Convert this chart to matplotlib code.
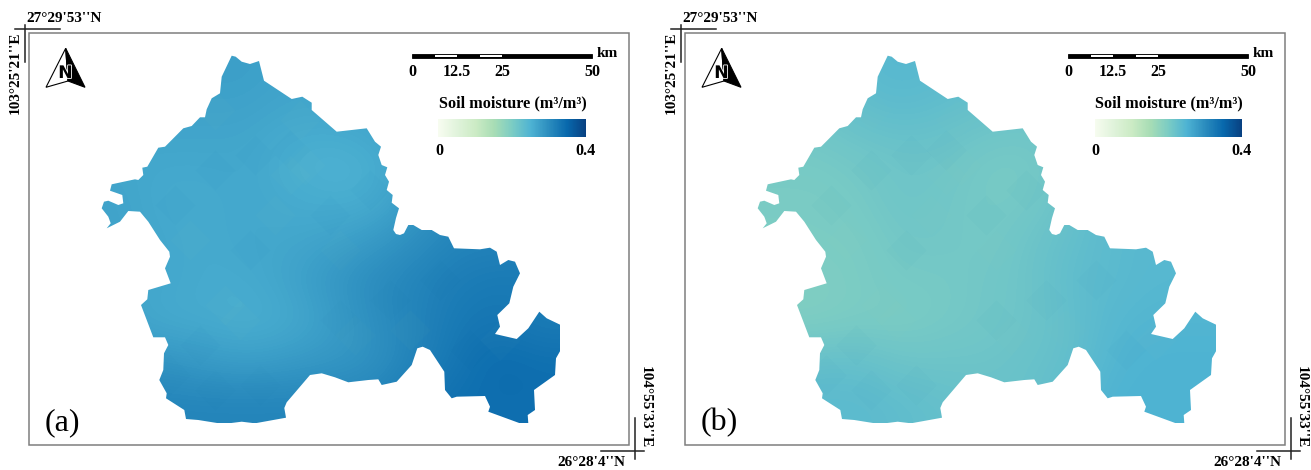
import numpy as np
import matplotlib
matplotlib.use('Agg')
import matplotlib.pyplot as plt
import matplotlib.patheffects as pe
from matplotlib.patches import Polygon, Rectangle
from matplotlib.cm import ScalarMappable
from matplotlib.colors import Normalize

plt.rcParams['font.family'] = ['Liberation Serif', 'DejaVu Serif']

W, H = 1311, 470
PANEL_SHIFT = 656

# basin outline, in picture pixels
outline_x = [231.7, 235.7, 241.7, 250, 259, 264, 291.7, 302.3, 311.7, 311.7, 336.7, 366.7, 375, 381, 378.3,
             381.7, 387.3, 385, 389, 386.7, 392.7, 391.7, 399, 396, 393.3, 396, 400, 404, 408.3, 413.3, 421.7,
             431.7, 440, 448.3, 454, 480, 490, 496.7, 500, 508.3, 515, 520, 513.3, 509.3, 497.3, 500,
             495, 516.7, 528.3, 539.3, 546.7, 560.7, 560.7, 556, 555, 534, 535, 527.7, 528.3, 520, 488.3,
             490, 485, 456.7, 451.7, 445, 444.3, 430, 422.7, 417.3, 411.7, 396.7, 381.7, 378.3, 368.3, 348.3,
             335, 321.7, 310, 286.7, 284.3, 286, 255, 241.7, 223.3, 198.3, 186, 184.3, 166, 166.7, 159.3,
             163.3, 164, 168.3, 165, 153.3, 141, 147.3, 148.3, 170.7, 165, 170, 169.3, 160, 148.3, 140,
             128.3, 120, 106.7, 110.7, 108.3, 101.7, 104, 108.3, 118.3, 123.3, 122.3, 110, 111.7, 135, 138.3,
             143.3, 142.3, 147.3, 158.3, 165, 171.7, 183.3, 191.7, 200, 205, 206.7, 211.7, 220, 221.7]
outline_y = [55.7, 56.7, 61.7, 64, 61, 80.7, 99, 96.7, 102.7, 110, 131.7, 128.3, 141.7, 146.7, 155,
             165, 167.3, 175, 181.7, 190, 195, 202.7, 208.3, 218, 230, 234, 235, 233.3, 225, 225, 230,
             230, 235, 236.7, 248.3, 249.3, 247.7, 251.7, 265, 260, 261.7, 273.3, 286.7, 303.3, 315, 326.7,
             334, 339, 328.3, 311.7, 318.3, 325, 350, 358.3, 375, 390, 410, 415, 423.3, 423.3, 411.7,
             406.7, 396, 396.7, 398.3, 390, 371.7, 350, 346.7, 348.3, 365, 381.7, 385, 379.3, 380, 382.3,
             377.3, 373.3, 375, 402.3, 408, 417.7, 423.3, 421.7, 424, 420, 419, 410, 398.3, 393.3, 380,
             370, 353.3, 345, 337.3, 337.3, 305, 299.3, 290, 283.3, 268.3, 256.7, 251.7, 240, 221.7, 211.7,
             211, 221.7, 228.3, 223.3, 216.7, 208.3, 201.7, 200.7, 205, 203.3, 195, 190.7, 184.3, 179.3, 180,
             175, 167.7, 166.7, 147.7, 146.7, 140, 128.3, 126, 117.3, 117.3, 109.3, 98.3, 93.3, 76.7]

# soil moisture, on a coarse grid (m3/m3)
grid_x = [100, 146, 192, 238, 284, 330, 376, 422, 468, 514, 560]
grid_y = [55, 101, 147, 193, 239, 285, 331, 377, 423]
moisture_a = [[.27, .27, .275, .275, .27, .27, .27, .28, .30, .30, .30],
              [.27, .27, .27, .27, .265, .265, .27, .28, .30, .30, .30],
              [.265, .265, .265, .265, .255, .25, .255, .27, .29, .30, .30],
              [.27, .26, .26, .265, .26, .255, .255, .28, .30, .31, .31],
              [.27, .265, .26, .265, .265, .27, .28, .295, .31, .31, .31],
              [.27, .265, .26, .26, .27, .285, .30, .31, .32, .325, .325],
              [.27, .26, .26, .255, .26, .275, .295, .31, .325, .33, .32],
              [.29, .29, .28, .275, .28, .285, .29, .31, .33, .345, .34],
              [.31, .31, .31, .31, .31, .31, .31, .33, .34, .34, .34]]
moisture_b = [[.215, .22, .235, .24, .235, .23, .225, .22, .23, .23, .23],
              [.21, .215, .225, .23, .225, .22, .215, .22, .23, .23, .23],
              [.205, .205, .21, .215, .215, .205, .205, .215, .225, .23, .23],
              [.20, .20, .205, .215, .21, .205, .205, .22, .235, .235, .235],
              [.20, .20, .20, .21, .21, .205, .215, .225, .235, .24, .24],
              [.195, .195, .20, .205, .205, .21, .215, .23, .235, .24, .24],
              [.195, .195, .20, .20, .205, .21, .215, .225, .24, .245, .245],
              [.22, .225, .225, .215, .215, .215, .22, .225, .245, .25, .25],
              [.235, .235, .235, .23, .225, .22, .22, .235, .25, .25, .25]]

# diamond shaped patches visible in the map texture
dark_x = [255, 215, 175, 290, 200, 170, 215, 260, 340, 390, 330, 440, 470, 250, 370]
dark_y = [155, 170, 205, 150, 345, 375, 390, 385, 320, 300, 215, 280, 350, 250, 190]
light_x = [305, 290, 225, 240, 355, 300, 340, 190, 410, 275, 500, 215]
light_y = [165, 175, 305, 320, 335, 120, 250, 240, 330, 215, 340, 110]

panel_labels = ['(a)', '(b)']
scale_km = [0, 12.5, 25, 50]
scale_labels = ['0', '12.5', '25', '50']
cbar_range = [0, 0.4]


def draw_panel(ax, fig, shift, data, label):
    # map frame
    ax.add_patch(Rectangle((29 + shift, 33), 600, 412, fill=False, ec='#7f7f7f', lw=1.1))
    # corner crosses
    ax.plot([15 + shift, 60 + shift], [28.5, 28.5], color='#222222', lw=1.1)
    ax.plot([24.5 + shift, 24.5 + shift], [25, 62], color='#222222', lw=1.1)
    ax.plot([601 + shift, 644 + shift], [451, 451], color='#222222', lw=1.1)
    ax.plot([635 + shift, 635 + shift], [418, 459], color='#222222', lw=1.1)
    ax.text(26 + shift, 18.5, "27°29'53''N", fontsize=11, fontweight='bold', ha='left', va='center')
    ax.text(15 + shift, 72.5, "103°25'21''E", fontsize=11, fontweight='bold', rotation=90, ha='center', va='center')
    ax.text(591 + shift, 462.5, "26°28'4''N", fontsize=11, fontweight='bold', ha='center', va='center')
    ax.text(645 + shift, 407.5, "104°55'33''E", fontsize=11, fontweight='bold', rotation=-90, ha='center', va='center')
    ax.text(45 + shift, 423, label, fontsize=23, ha='left', va='center')

    # soil moisture clipped to the outline
    im = ax.imshow(np.array(data), cmap='GnBu', vmin=0, vmax=0.4, interpolation='bicubic', aspect='auto',
                   extent=[grid_x[0] + shift, grid_x[-1] + shift, grid_y[-1], grid_y[0]], zorder=2)
    basin = Polygon(np.column_stack([np.array(outline_x) + shift, outline_y]), closed=True,
                    transform=ax.transData, fc='none', ec='none')
    ax.add_patch(basin)
    im.set_clip_path(basin)
    dark = ax.scatter(np.array(dark_x) + shift, dark_y, marker='D', s=420, c='#0868ac', alpha=0.018,
                      linewidths=0, zorder=2.5)
    light = ax.scatter(np.array(light_x) + shift, light_y, marker='D', s=420, c='#a8ddb5', alpha=0.025,
                       linewidths=0, zorder=2.5)
    dark.set_clip_path(basin)
    light.set_clip_path(basin)

    # north arrow
    left_half = Polygon([(65.7 + shift, 48.3), (46 + shift, 87.3), (68 + shift, 81)], closed=True,
                        fc='white', ec='black', lw=0.8, zorder=3)
    right_half = Polygon([(65.7 + shift, 48.3), (85 + shift, 87.3), (68 + shift, 81)], closed=True,
                         fc='black', ec='black', lw=0.8, zorder=3)
    ax.add_patch(left_half)
    ax.add_patch(right_half)
    ax.text(65.5 + shift, 73, 'N', fontsize=12.5, fontweight='bold', family='DejaVu Sans', color='black',
            ha='center', va='center', zorder=4, path_effects=[pe.withStroke(linewidth=1.2, foreground='white')])

    # scale bar
    x0 = 412 + shift
    px_per_km = 180 / 50
    ax.add_patch(Rectangle((x0, 53.5), 50 * px_per_km, 4.5, fc='black', ec='black', lw=0.6, zorder=3))
    for a, b in [(6.5, 12.5), (19, 25)]:
        ax.add_patch(Rectangle((x0 + a * px_per_km, 54.8), (b - a) * px_per_km, 2.4, fc='white', ec='none', zorder=4))
    for km, txt in zip(scale_km, scale_labels):
        ax.text(x0 + km * px_per_km, 71.5, txt, fontsize=11.5, fontweight='bold', ha='center', va='center')
    ax.text(596.5 + shift, 53.5, 'km', fontsize=11, fontweight='bold', ha='left', va='center')

    # colour legend
    ax.text(513 + shift, 103, 'Soil moisture (m³/m³)', fontsize=11.7, fontweight='bold', ha='center', va='center')
    cax = fig.add_axes([(438.5 + shift) / W, 1 - 137 / H, 147.5 / W, 18.5 / H])
    cb = fig.colorbar(ScalarMappable(Normalize(0, 0.4), 'GnBu'), cax=cax, orientation='horizontal')
    cb.outline.set_visible(False)
    cb.set_ticks([])
    for val in cbar_range:
        ax.text(439 + shift + val / 0.4 * 146, 151, str(val), fontsize=11.5, fontweight='bold', ha='center', va='center')


fig = plt.figure(figsize=(W / 100, H / 100), dpi=100)
ax = fig.add_axes([0, 0, 1, 1])
draw_panel(ax, fig, 0, moisture_a, panel_labels[0])
draw_panel(ax, fig, PANEL_SHIFT, moisture_b, panel_labels[1])
ax.set_xlim(0, W)
ax.set_ylim(H, 0)
ax.axis('off')
fig.savefig('out.png', dpi=100)
